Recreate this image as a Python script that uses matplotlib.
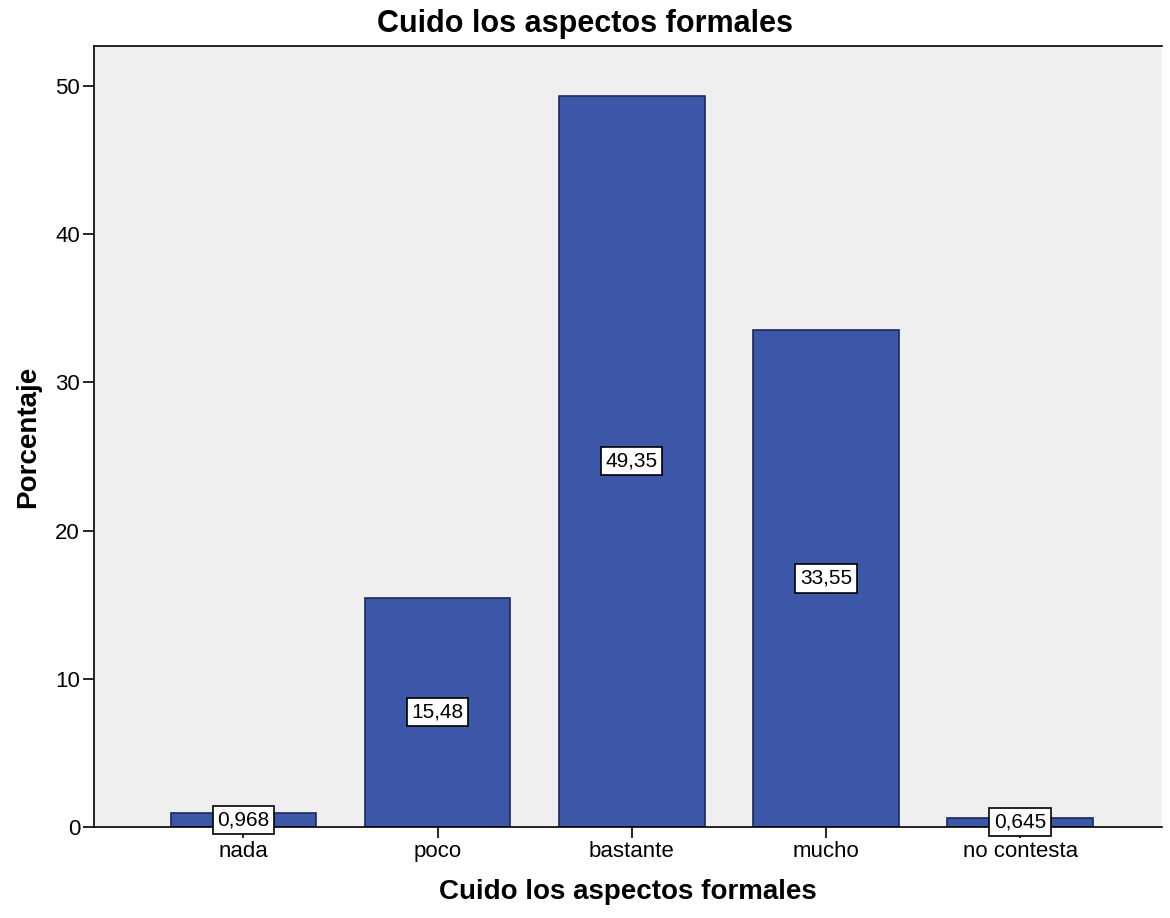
import matplotlib
matplotlib.use("Agg")
import matplotlib.pyplot as plt

# data
categorias = ["nada", "poco", "bastante", "mucho", "no contesta"]
porcentajes = [0.968, 15.48, 49.35, 33.55, 0.645]
etiquetas = ["0,968", "15,48", "49,35", "33,55", "0,645"]
yticks = [0, 10, 20, 30, 40, 50]

plt.rcParams["font.family"] = ["Liberation Sans", "DejaVu Sans"]

fig = plt.figure(figsize=(11.7, 9.18), dpi=100)
ax = fig.add_axes([0.0803, 0.099, 0.9127, 0.851])
ax.set_facecolor("#efefef")

x = range(len(categorias))
ax.bar(x, porcentajes, width=0.75, color="#3c56a8", edgecolor="#1c2a5a", linewidth=1.2, zorder=2)

for xi, v, lab in zip(x, porcentajes, etiquetas):
    ax.text(xi, v / 2, lab, ha="center", va="center", fontsize=15, zorder=3,
            bbox=dict(boxstyle="square,pad=0.22", facecolor="white", edgecolor="black", linewidth=1.2))

ax.set_xlim(-0.77, 4.73)
ax.set_ylim(0, 52.7)
ax.set_xticks(list(x))
ax.set_xticklabels(categorias, fontsize=16)
ax.set_yticks(yticks)
ax.tick_params(axis="y", labelsize=16, length=8, width=1.2, pad=2)
ax.tick_params(axis="x", length=8, width=1.2, pad=2)

for s in ["left", "bottom", "top", "right"]:
    ax.spines[s].set_linewidth(1.2)
ax.spines["right"].set_visible(False)

# SPSS centres the title on the whole figure
fig.text(0.5, 1 - 24 / 918, "Cuido los aspectos formales", ha="center", va="center",
         fontsize=22, fontweight="bold")
ax.set_xlabel("Cuido los aspectos formales", fontsize=20, fontweight="bold", labelpad=12)
ax.set_ylabel("Porcentaje", fontsize=20, fontweight="bold", labelpad=10)

fig.savefig("out.png", dpi=100)
